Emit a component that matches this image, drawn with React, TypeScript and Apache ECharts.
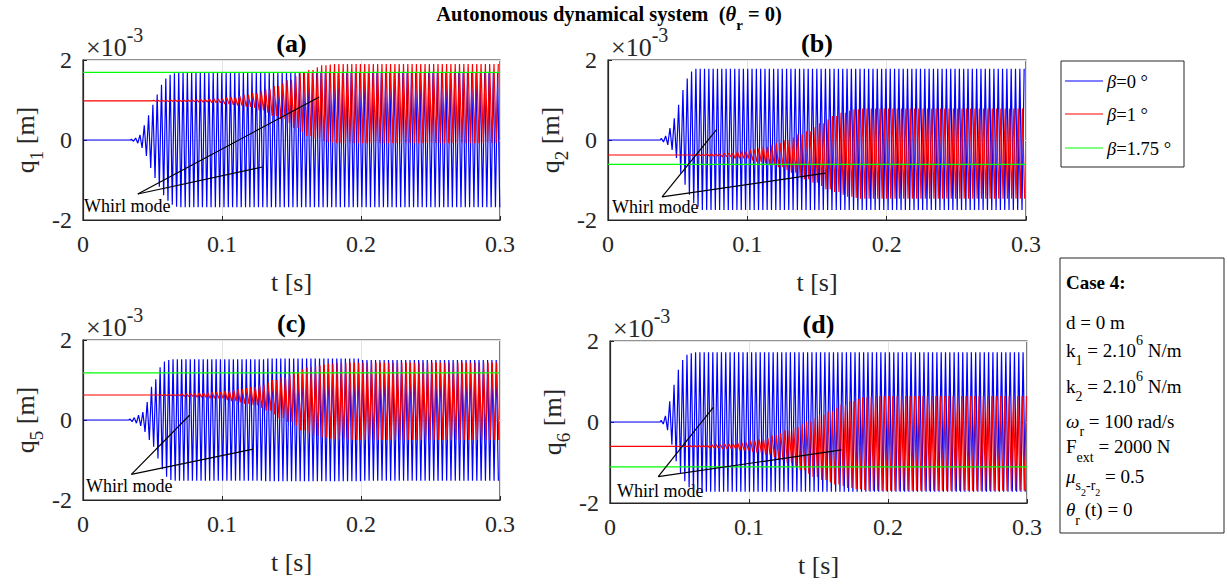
import React, { useEffect, useRef } from "react";
import * as echarts from "echarts";

// ---------------- data (values in units of 1e-3 m) ----------------
const T_END = 0.3;
const PERIOD = 0.0031; // oscillation period (s)

const xTicks = [0, 0.1, 0.2, 0.3];
const yTicks = [-2, 0, 2];
const panelTags = ["(a)", "(b)", "(c)", "(d)"];
const panelDofs = ["1", "2", "5", "6"];
const legendLabels = ["=0 °", "=1 °", "=1.75 °"];

// knots: [time, upper peak, lower peak] (held until the next knot)
const q1BlueBase = 0, q1BlueOnset = 0.034;
const q1BlueKnots = [
  [0.034, 0.02, -0.03], [0.037, 0.05, -0.08], [0.040, 0.13, -0.2], [0.043, 0.37, -0.4],
  [0.046, 0.62, -0.7], [0.049, 0.88, -0.95], [0.052, 1.14, -1.17], [0.055, 1.38, -1.38],
  [0.058, 1.54, -1.52], [0.061, 1.63, -1.62], [0.064, 1.67, -1.67], [0.067, 1.69, -1.68],
];
const q1RedBase = 0.98, q1RedOnset = 0.05;
const q1RedKnots = [
  [0.05, 0.99, 0.97], [0.06, 1.0, 0.96], [0.08, 1.01, 0.95], [0.09, 1.03, 0.93], [0.1, 1.06, 0.9],
  [0.105, 1.08, 0.88], [0.11, 1.1, 0.86], [0.115, 1.13, 0.83], [0.12, 1.17, 0.8], [0.125, 1.22, 0.74],
  [0.13, 1.28, 0.68], [0.135, 1.35, 0.6], [0.14, 1.42, 0.52], [0.145, 1.5, 0.42], [0.15, 1.6, 0.3],
  [0.155, 1.68, 0.2], [0.16, 1.75, 0.1], [0.165, 1.82, 0.03], [0.17, 1.87, -0.03], [0.175, 1.89, -0.06],
  [0.18, 1.9, -0.08],
];
const q1Green = 1.69;

const q2BlueBase = 0, q2BlueOnset = 0.0375;
const q2BlueKnots = [
  [0.0375, 0.04, -0.05], [0.0405, 0.1, -0.12], [0.0435, 0.3, -0.25], [0.0465, 0.54, -0.45],
  [0.0495, 0.88, -0.83], [0.0525, 1.25, -1.12], [0.0555, 1.54, -1.37], [0.0585, 1.71, -1.58],
  [0.0615, 1.78, -1.67], [0.0645, 1.78, -1.75],
];
const q2RedBase = -0.375, q2RedOnset = 0.058;
const q2RedKnots = [
  [0.058, -0.36, -0.39], [0.07, -0.35, -0.4], [0.08, -0.33, -0.42], [0.09, -0.29, -0.46], [0.1, -0.24, -0.51],
  [0.105, -0.2, -0.55], [0.11, -0.17, -0.58], [0.115, -0.13, -0.63], [0.12, -0.08, -0.68], [0.125, -0.01, -0.75],
  [0.13, 0.06, -0.82], [0.135, 0.14, -0.9], [0.14, 0.22, -0.98], [0.145, 0.32, -1.07], [0.15, 0.42, -1.15],
  [0.155, 0.51, -1.23], [0.16, 0.6, -1.3], [0.165, 0.68, -1.37], [0.17, 0.74, -1.42], [0.175, 0.77, -1.45],
  [0.18, 0.79, -1.47],
];
const q2Green = -0.61;

const q5BlueBase = 0, q5BlueOnset = 0.033;
const q5BlueKnots = [
  [0.033, 0.03, -0.04], [0.036, 0.06, -0.08], [0.039, 0.12, -0.15], [0.042, 0.2, -0.3],
  [0.045, 0.45, -0.5], [0.048, 0.83, -0.67], [0.051, 1.02, -0.96], [0.054, 1.32, -1.23],
  [0.057, 1.46, -1.42], [0.06, 1.5, -1.5], [0.063, 1.52, -1.52], [0.13, 1.54, -1.53], [0.2, 1.5, -1.52],
];
const q5RedBase = 0.625, q5RedOnset = 0.055;
const q5RedKnots = [
  [0.055, 0.64, 0.61], [0.07, 0.66, 0.59], [0.08, 0.68, 0.57], [0.09, 0.7, 0.54], [0.1, 0.73, 0.5],
  [0.105, 0.75, 0.47], [0.11, 0.77, 0.44], [0.115, 0.8, 0.4], [0.12, 0.83, 0.37], [0.125, 0.88, 0.3],
  [0.13, 0.94, 0.23], [0.135, 1.0, 0.14], [0.14, 1.07, 0.04], [0.145, 1.13, -0.05], [0.15, 1.2, -0.15],
  [0.155, 1.27, -0.26], [0.16, 1.32, -0.33], [0.165, 1.36, -0.4], [0.17, 1.39, -0.44], [0.175, 1.41, -0.47],
  [0.18, 1.43, -0.49], [0.19, 1.44, -0.5],
];
const q5Green = 1.18;

const q6BlueBase = 0, q6BlueOnset = 0.036;
const q6BlueKnots = [
  [0.036, 0.04, -0.05], [0.039, 0.15, -0.2], [0.042, 0.51, -0.56], [0.045, 0.92, -0.97],
  [0.048, 1.29, -1.26], [0.051, 1.53, -1.46], [0.054, 1.66, -1.61], [0.057, 1.7, -1.69], [0.06, 1.72, -1.72],
];
const q6RedBase = -0.6, q6RedOnset = 0.057;
const q6RedKnots = [
  [0.057, -0.58, -0.62], [0.07, -0.56, -0.64], [0.08, -0.54, -0.66], [0.09, -0.51, -0.7], [0.1, -0.46, -0.74],
  [0.105, -0.43, -0.77], [0.11, -0.39, -0.81], [0.115, -0.33, -0.87], [0.12, -0.27, -0.94], [0.125, -0.2, -1.02],
  [0.13, -0.13, -1.1], [0.135, -0.06, -1.19], [0.14, 0.01, -1.28], [0.145, 0.1, -1.36], [0.15, 0.18, -1.43],
  [0.155, 0.26, -1.49], [0.16, 0.35, -1.54], [0.165, 0.43, -1.58], [0.17, 0.51, -1.63], [0.175, 0.57, -1.66],
  [0.18, 0.61, -1.68], [0.185, 0.64, -1.7],
];
const q6Green = -1.11;

// "Whirl mode" pointer lines: apex, end1, end2 (data coords)
const whirlA = [[0.0394, -1.35], [0.170, 1.075], [0.129, -0.675]];
const whirlB = [[0.0388, -1.42], [0.0782, 0.27], [0.156, -0.83]];
const whirlC = [[0.0348, -1.36], [0.0768, 0.125], [0.1224, -0.73]];
const whirlD = [[0.0347, -1.35], [0.0743, 0.36], [0.1666, -0.69]];

// ---------------- helpers ----------------
const FONT = '"Liberation Serif", "Times New Roman", Times, serif';
let measureCtx: CanvasRenderingContext2D | null = null;
function tw(text: string, size: number, bold?: boolean, italic?: boolean) {
  if (!measureCtx) measureCtx = document.createElement("canvas").getContext("2d");
  measureCtx!.font = `${italic ? "italic " : ""}${bold ? "bold " : ""}${size}px ${FONT}`;
  return measureCtx!.measureText(text).width;
}
type Run = { t: string; s: number; b?: boolean; i?: boolean; dy?: number };
function runs(x: number, y: number, rs: Run[], align: "left" | "center" = "left", fill = "#000") {
  const widths = rs.map((r) => tw(r.t, r.s, r.b, r.i));
  const total = widths.reduce((a, b) => a + b, 0);
  let cx = align === "center" ? x - total / 2 : x;
  const out: any[] = [];
  rs.forEach((r, i) => {
    const lead = r.t.length - r.t.replace(/^\s+/, "").length;
    const txt = r.t.trim();
    if (txt) {
      out.push({
        type: "text",
        x: cx + tw(r.t.slice(0, lead), r.s, r.b, r.i),
        y: y + (r.dy || 0),
        silent: true,
        style: {
          text: txt, fontSize: r.s, fontFamily: FONT,
          fontWeight: r.b ? "bold" : "normal", fontStyle: r.i ? "italic" : "normal",
          fill, textAlign: "left", textVerticalAlign: "middle", align: "left", verticalAlign: "middle",
        },
      });
    }
    cx += widths[i];
  });
  return out;
}

function osc(base: number, onset: number, knots: number[][]) {
  const pick = (t: number) => {
    let k = knots[0];
    for (const kn of knots) if (kn[0] <= t + 1e-9) k = kn;
    return k;
  };
  const pts: number[][] = [[0, base], [onset, base]];
  for (let t = onset; t + PERIOD / 4 < T_END; t += PERIOD) {
    pts.push([t + PERIOD / 4, pick(t)[1]]);
    if (t + (3 * PERIOD) / 4 <= T_END) pts.push([t + (3 * PERIOD) / 4, pick(t + PERIOD / 2)[2]]);
  }
  return pts;
}

const grids = [
  { left: 83, top: 60, width: 417, height: 160 },
  { left: 608, top: 60, width: 418, height: 160 },
  { left: 83, top: 340, width: 417, height: 160 },
  { left: 610, top: 341, width: 417, height: 162 },
];
const whirlTextPos = [[84, 206], [612, 207], [86, 486], [617, 491]];

function buildOption() {
  const panels = [
    { blue: osc(q1BlueBase, q1BlueOnset, q1BlueKnots), red: osc(q1RedBase, q1RedOnset, q1RedKnots), green: q1Green, whirl: whirlA },
    { blue: osc(q2BlueBase, q2BlueOnset, q2BlueKnots), red: osc(q2RedBase, q2RedOnset, q2RedKnots), green: q2Green, whirl: whirlB },
    { blue: osc(q5BlueBase, q5BlueOnset, q5BlueKnots), red: osc(q5RedBase, q5RedOnset, q5RedKnots), green: q5Green, whirl: whirlC },
    { blue: osc(q6BlueBase, q6BlueOnset, q6BlueKnots), red: osc(q6RedBase, q6RedOnset, q6RedKnots), green: q6Green, whirl: whirlD },
  ];

  const axisColor = "#262626";
  const xAxis = grids.map((_, i) => ({
    type: "value", gridIndex: i, min: xTicks[0], max: xTicks[xTicks.length - 1], interval: 0.1,
    axisLine: { show: true, onZero: false, lineStyle: { color: axisColor, width: 1.2 } },
    axisTick: { show: true, inside: true, length: 4, lineStyle: { color: axisColor } },
    axisLabel: { fontSize: 24, fontFamily: FONT, color: axisColor, margin: 12,
      formatter: (v: number) => (v === 0 ? "0" : v.toFixed(1)) },
    splitLine: { show: true, lineStyle: { color: "#e3e3e3", width: 1 } },
  }));
  const yAxis = grids.map((_, i) => ({
    type: "value", gridIndex: i, min: yTicks[0], max: yTicks[yTicks.length - 1], interval: 2,
    axisLine: { show: true, onZero: false, lineStyle: { color: axisColor, width: 1.2 } },
    axisTick: { show: true, inside: true, length: 4, lineStyle: { color: axisColor } },
    axisLabel: { fontSize: 24, fontFamily: FONT, color: axisColor, margin: 11, formatter: (v: number) => String(v) },
    splitLine: { show: true, lineStyle: { color: "#e3e3e3", width: 1 } },
  }));

  const series: any[] = [];
  panels.forEach((p, i) => {
    const common = { type: "line", xAxisIndex: i, yAxisIndex: i, showSymbol: false, symbol: "none", silent: true, animation: false };
    series.push({ ...common, name: "b0", data: p.blue, lineStyle: { color: "#0000ff", width: 1.2 } });
    series.push({ ...common, name: "b1", data: p.red, lineStyle: { color: "#ff0000", width: 1.2 } });
    series.push({
      ...common, name: "b175", data: [[0, p.green], [T_END, p.green]], lineStyle: { color: "#00ff00", width: 1.2 },
      markLine: {
        silent: true, symbol: ["none", "none"], animation: false, label: { show: false },
        lineStyle: { color: "#000", width: 1.2, type: "solid" },
        emphasis: { disabled: true },
        data: [
          [{ coord: p.whirl[0] }, { coord: p.whirl[1] }],
          [{ coord: p.whirl[0] }, { coord: p.whirl[2] }],
        ],
      },
    });
  });

  const graphic: any[] = [];
  // main title
  graphic.push(...runs(609, 14, [
    { t: "Autonomous dynamical system", s: 20.5, b: true },
    { t: "  (", s: 20.5, b: true },
    { t: "θ", s: 20.5, b: true, i: true },
    { t: "r", s: 15, b: true, dy: 11 },
    { t: " = 0)", s: 20.5, b: true },
  ], "center"));

  grids.forEach((g, i) => {
    graphic.push(...runs(g.left + g.width / 2, g.top - 17, [{ t: panelTags[i], s: 26, b: true }], "center"));
    graphic.push(...runs(g.left + 3, g.top - 13, [
      { t: "×10", s: 26 }, { t: "-3", s: 20, dy: -12 },
    ], "left", "#262626"));
    graphic.push(...runs(g.left + g.width / 2, g.top + g.height + 62, [{ t: "t [s]", s: 26 }], "center", "#262626"));
    const yl = runs(0, 0, [{ t: "q", s: 26 }, { t: panelDofs[i], s: 19, dy: 11 }, { t: " [m]", s: 26 }], "center", "#262626");
    graphic.push({ type: "group", x: g.left - 58, y: g.top + g.height / 2, rotation: Math.PI / 2, silent: true, children: yl });
    graphic.push(...runs(whirlTextPos[i][0], whirlTextPos[i][1], [{ t: "Whirl mode", s: 18 }]));
  });

  // legend box
  graphic.push({ type: "rect", shape: { x: 1061, y: 61, width: 123, height: 106 }, style: { fill: "#fff", stroke: "#262626", lineWidth: 1 }, silent: true });
  const legendColors = ["#0000ff", "#ff0000", "#00ff00"];
  const legendY = [81, 114, 148];
  legendLabels.forEach((lab, i) => {
    graphic.push({ type: "line", shape: { x1: 1065, y1: legendY[i], x2: 1103, y2: legendY[i] }, style: { stroke: legendColors[i], lineWidth: 1 }, silent: true });
    graphic.push(...runs(1107, legendY[i] + 1, [{ t: "β", s: 18.5, i: true }, { t: lab, s: 18.5 }]));
  });

  // case box
  graphic.push({ type: "rect", shape: { x: 1060, y: 258, width: 164, height: 275 }, style: { fill: "#fff", stroke: "#262626", lineWidth: 1 }, silent: true });
  const cx = 1066;
  graphic.push(...runs(cx, 282, [{ t: "Case 4:", s: 19, b: true }]));
  graphic.push(...runs(cx, 322, [{ t: "d = 0 m", s: 19 }]));
  graphic.push(...runs(cx, 350, [{ t: "k", s: 19 }, { t: "1", s: 14, dy: 10 }, { t: " = 2.10", s: 19 }, { t: "6", s: 14, dy: -10 }, { t: " N/m", s: 19 }]));
  graphic.push(...runs(cx, 386, [{ t: "k", s: 19 }, { t: "2", s: 14, dy: 10 }, { t: " = 2.10", s: 19 }, { t: "6", s: 14, dy: -10 }, { t: " N/m", s: 19 }]));
  graphic.push(...runs(cx, 421, [{ t: "ω", s: 19, i: true }, { t: "r", s: 14, dy: 10 }, { t: " = 100 rad/s", s: 19 }]));
  graphic.push(...runs(cx, 446, [{ t: "F", s: 19 }, { t: "ext", s: 14, dy: 11 }, { t: " = 2000 N", s: 19 }]));
  graphic.push(...runs(cx, 476, [
    { t: "μ", s: 19, i: true }, { t: "s", s: 14, dy: 9 }, { t: "2", s: 10, dy: 16 },
    { t: "-r", s: 14, dy: 9 }, { t: "2", s: 10, dy: 16 }, { t: " = 0.5", s: 19 },
  ]));
  graphic.push(...runs(cx, 509, [{ t: "θ", s: 19, i: true }, { t: "r", s: 14, dy: 11 }, { t: " (t) = 0", s: 19 }]));

  return {
    animation: false,
    backgroundColor: "#ffffff",
    grid: grids.map((g) => ({ ...g, show: true, borderColor: axisColor, borderWidth: 1.2, backgroundColor: "transparent", containLabel: false, outerBoundsMode: "none" })),
    xAxis,
    yAxis,
    series,
    graphic,
  };
}

export default function App() {
  const ref = useRef<HTMLDivElement>(null);
  useEffect(() => {
    const chart = echarts.init(ref.current!, null, { renderer: "svg" });
    chart.setOption(buildOption() as any);
    return () => chart.dispose();
  }, []);
  return <div ref={ref} style={{ position: "absolute", left: 0, top: 0, width: 1227, height: 587, background: "#fff" }} />;
}
